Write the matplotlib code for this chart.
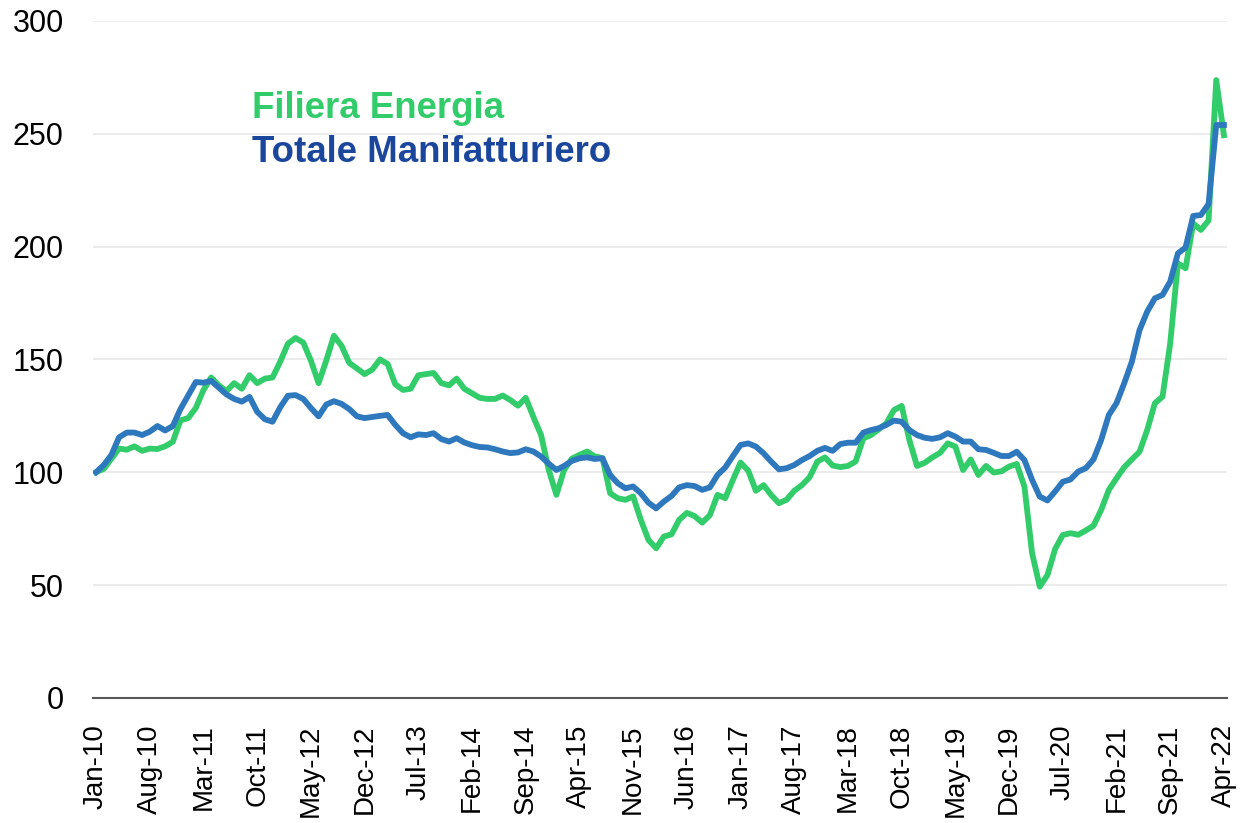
import numpy as np
import matplotlib.pyplot as plt

# Dati mensili Jan-10 .. Apr-22 (indice base Jan-10 = 100)
mesi = ['Jan', 'Feb', 'Mar', 'Apr', 'May', 'Jun', 'Jul', 'Aug', 'Sep', 'Oct', 'Nov', 'Dec']
date = [f'{m}-{a:02d}' for a in range(10, 23) for m in mesi][:148]

energia = [
    100, 101.5, 106, 110.5, 110, 111.5, 109.5, 110.5, 110.3, 111.5, 113.5, 123,
    124, 128.5, 136.5, 142, 138.5, 136, 139.5, 137, 143, 139.5, 141.5, 142,
    149, 157, 159.5, 157.5, 149.5, 139.5, 149.5, 160.5, 156, 148.5, 146, 143.5,
    145.5, 150, 148, 139, 136.5, 137, 143, 143.5, 144, 139.5, 138.5, 141.5,
    137, 135, 133, 132.5, 132.5, 134, 132, 129.5, 133, 124.5, 116.5, 101,
    90, 101, 106, 107.7, 109.2, 107, 106.3, 90.7, 88.5, 87.8, 89.3, 78.9,
    70, 66.3, 71.5, 72.5, 78.9, 82, 80.6, 77.7, 81, 90, 88.5, 96.6,
    104.3, 100.7, 91.8, 94.3, 89.9, 86.3, 87.8, 91.8, 94.3, 97.8, 104.7, 106.6,
    103, 102.3, 102.8, 104.8, 115, 116.5, 119, 121.7, 127.6, 129.4, 114.3, 102.8,
    104.2, 106.6, 108.6, 112.8, 111.4, 101, 105.7, 98.8, 102.8, 99.9, 100.4, 102.5,
    103.7, 93.6, 64.1, 49.3, 54.5, 66, 72.2, 73, 72.3, 74.2, 76.3, 83.3,
    92.2, 97.3, 102.2, 105.7, 109.1, 118.7, 130.6, 133.5, 157.1, 192.6, 190.4, 210.3,
    207.4, 211.6, 273.8, 249.4,
]

manifatturiero = [
    100, 103.2, 107.7, 115.5, 117.6, 117.6, 116.5, 118, 120.5, 118.5, 120.5, 128,
    134, 140, 139.7, 140.5, 137.5, 134.5, 132.5, 131.3, 133.4, 126.8, 123.5, 122.4,
    128.8, 133.9, 134.2, 132.5, 128.5, 124.8, 130, 131.5, 130.3, 128, 124.8, 124,
    124.5, 125, 125.4, 121, 117.3, 115.5, 116.8, 116.5, 117.3, 114.7, 113.6, 115.1,
    113.2, 112, 111.2, 111, 110.2, 109.2, 108.5, 108.8, 110.2, 109.2, 107, 103.8,
    101, 102.8, 105, 106.2, 106.6, 105.9, 106.2, 98.8, 95.1, 92.9, 93.7, 90.7,
    86.5, 84, 87, 89.5, 93.3, 94.3, 93.9, 92.2, 93.3, 98.8, 102.1, 107.2,
    112.1, 112.8, 111.4, 108.4, 104.7, 101.3, 101.8, 103.2, 105.4, 107.2, 109.5, 110.8,
    109.5, 112.5, 113.1, 113.1, 117.6, 118.7, 119.5, 121, 122.9, 122.4, 118.7, 116.5,
    115.3, 114.8, 115.5, 117.3, 115.8, 113.6, 113.6, 110.2, 109.9, 108.6, 107.2, 107.2,
    109.1, 105.4, 96.6, 89.2, 87.5, 91.5, 95.8, 96.8, 100.3, 101.8, 105.7, 114.3,
    125.4, 130.6, 139.4, 149, 163, 171.2, 177.1, 178.6, 184.5, 197, 199.6, 213.6,
    214, 218.9, 253.9, 253.9,
]

verde = '#33CC6B'
blu_linea = '#2E78BD'
blu_testo = '#1A469C'

plt.rcParams['font.family'] = ['Liberation Sans', 'DejaVu Sans']

fig = plt.figure(figsize=(12.4, 8.23), dpi=100)
ax = fig.add_axes([0.075, 0.152, 0.9145, 0.8225])

x = np.arange(len(date))
ax.plot(x, energia, color=verde, lw=4.2, solid_joinstyle='round', zorder=3)
ax.plot(x, manifatturiero, color=blu_linea, lw=4.2, solid_joinstyle='round', zorder=4)

ax.set_xlim(-0.4, 147.4)
ax.set_ylim(0, 300)
ax.set_yticks(np.arange(0, 301, 50))
ax.set_xticks(x[::7])
ax.set_xticklabels(date[::7], rotation=90)

ax.grid(axis='y', color='#EBEBEB', lw=1.5)
ax.set_axisbelow(True)
for s in ['top', 'right', 'left']:
    ax.spines[s].set_visible(False)
ax.spines['bottom'].set_color('#595959')
ax.spines['bottom'].set_linewidth(1.5)
ax.spines['bottom'].set_zorder(5)
ax.tick_params(axis='both', length=0, colors='black')
ax.tick_params(axis='x', pad=19, labelsize=20)
ax.tick_params(axis='y', pad=21, labelsize=22)

fig.text(0.2032, 0.8566, 'Filiera Energia', color=verde, fontsize=26.4,
         fontweight='bold', va='baseline')
fig.text(0.2032, 0.8032, 'Totale Manifatturiero', color=blu_testo, fontsize=26.4,
         fontweight='bold', va='baseline')

fig.savefig('out.png', dpi=100)
